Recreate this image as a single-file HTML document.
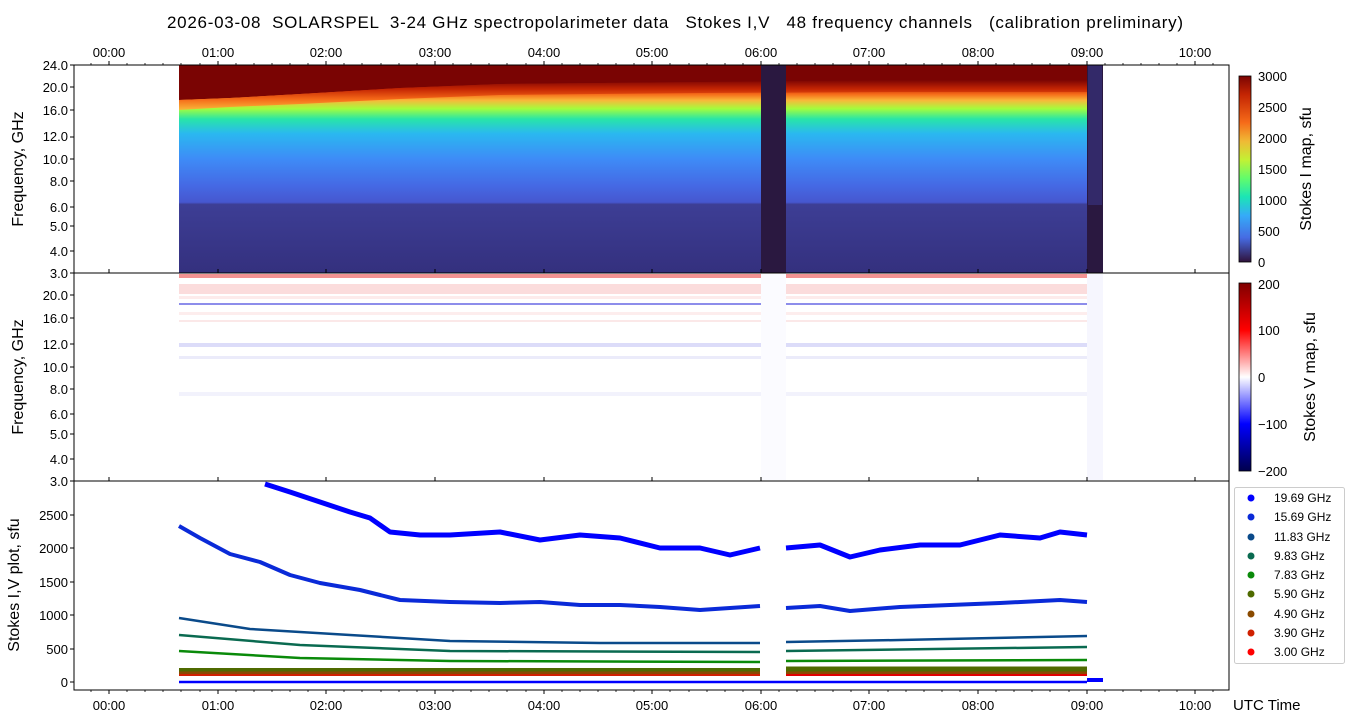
<!DOCTYPE html>
<html><head><meta charset="utf-8"><style>
html,body{margin:0;padding:0;background:#fff}
svg{display:block;font-family:"Liberation Sans","DejaVu Sans",sans-serif}
.pre{white-space:pre}
</style></head><body>
<svg width="1350" height="725" viewBox="0 0 1350 725" xmlns="http://www.w3.org/2000/svg">
<defs>
<linearGradient id="gI" x1="0" y1="65" x2="0" y2="273" gradientUnits="userSpaceOnUse">
<stop offset="0" stop-color="#7a0403"/>
<stop offset="0.08" stop-color="#800505"/>
<stop offset="0.11" stop-color="#c42503"/>
<stop offset="0.14" stop-color="#f66b19"/>
<stop offset="0.17" stop-color="#f8b83a"/>
<stop offset="0.21" stop-color="#a3fd3d"/>
<stop offset="0.26" stop-color="#28e5a8"/>
<stop offset="0.33" stop-color="#2ab8f0"/>
<stop offset="0.45" stop-color="#3e8cf7"/>
<stop offset="0.58" stop-color="#4569e4"/>
<stop offset="0.66" stop-color="#4657cf"/>
<stop offset="0.67" stop-color="#3d3e95"/>
<stop offset="1" stop-color="#34307e"/>
</linearGradient>
<linearGradient id="gS" x1="0" y1="0" x2="0" y2="1">
<stop offset="0" stop-color="#7a0403"/>
<stop offset="0.3" stop-color="#c42503"/>
<stop offset="0.65" stop-color="#f66b19"/>
<stop offset="1" stop-color="#f8b83a"/>
</linearGradient>
<linearGradient id="cb1" x1="0" y1="0" x2="0" y2="1">
<stop offset="0" stop-color="#7a0403"/><stop offset="0.1" stop-color="#c42503"/>
<stop offset="0.25" stop-color="#f66b19"/><stop offset="0.35" stop-color="#f0b935"/>
<stop offset="0.45" stop-color="#c3f134"/><stop offset="0.55" stop-color="#62fc6b"/>
<stop offset="0.65" stop-color="#1be5b5"/><stop offset="0.75" stop-color="#35abf8"/>
<stop offset="0.87" stop-color="#466be3"/><stop offset="1" stop-color="#30123b"/>
</linearGradient>
<linearGradient id="cb2" x1="0" y1="0" x2="0" y2="1">
<stop offset="0" stop-color="#800000"/><stop offset="0.25" stop-color="#ff0000"/>
<stop offset="0.5" stop-color="#ffffff"/><stop offset="0.75" stop-color="#0000ff"/>
<stop offset="1" stop-color="#00004c"/>
</linearGradient>
</defs>

<text class="pre" x="167" y="28" font-size="17" textLength="1016" lengthAdjust="spacing" fill="#000">2026-03-08  SOLARSPEL  3-24 GHz spectropolarimeter data   Stokes I,V   48 frequency channels   (calibration preliminary)</text>

<!-- Top panel -->
<rect x="179" y="65" width="908" height="208" fill="url(#gI)"/>
<polygon points="179,65 1087,65 1087,80 900,80 700,82 500,84 400,88 300,94 230,98 179,100" fill="#7a0403"/>
<polygon points="179,100 230,98 300,94 400,88 500,84 700,82 900,80 1087,80 1087,92 900,92 700,93 500,95 400,99 300,104 230,107 179,110" fill="url(#gS)"/>
<rect x="761" y="65" width="25" height="208" fill="#2a1840"/>
<rect x="1087" y="65" width="16" height="208" fill="#2a1840"/>
<rect x="1088" y="65" width="14" height="140" fill="#3a3585" opacity="0.6"/>
<rect x="74" y="65" width="1155" height="208" fill="none" stroke="#000" stroke-width="1"/>

<!-- Middle panel -->
<g opacity="0.85">
<rect x="179" y="274" width="908" height="4" fill="#f08080"/>
<rect x="179" y="284" width="908" height="10" fill="#fbd6d6"/>
<rect x="179" y="296" width="908" height="3" fill="#fde8e8"/>
<rect x="179" y="303" width="908" height="2" fill="#7a7ae8"/>
<rect x="179" y="312" width="908" height="3" fill="#fdeaea"/>
<rect x="179" y="320" width="908" height="2" fill="#fbe4e4"/>
<rect x="179" y="343" width="908" height="4" fill="#d6d6f8"/>
<rect x="179" y="356" width="908" height="3" fill="#e8e8fa"/>
<rect x="179" y="392" width="908" height="4" fill="#f0f0fc"/>
</g>
<rect x="761" y="274" width="25" height="206" fill="#fbfbff"/>
<rect x="1087" y="274" width="16" height="206" fill="#f6f6fe"/>
<rect x="74" y="273" width="1155" height="208" fill="none" stroke="#000" stroke-width="1"/>

<!-- Bottom panel -->
<g fill="none" stroke-linejoin="round">
<polyline stroke="#0000ff" stroke-width="5" points="265,484 290,492 320,502 350,512 370,518 390,532 420,535 450,535 500,532 540,540 580,535 620,538 660,548 700,548 730,555 760,548"/>
<polyline stroke="#0000ff" stroke-width="5" points="786,548 820,545 850,557 880,550 920,545 960,545 1000,535 1040,538 1060,532 1087,535"/>
<polyline stroke="#0a2ad8" stroke-width="4" points="179,526 200,538 230,554 260,562 290,575 320,583 360,590 380,595 400,600 450,602 500,603 540,602 580,605 620,605 660,607 700,610 760,606"/>
<polyline stroke="#0a2ad8" stroke-width="4" points="786,608 820,606 850,611 900,607 950,605 1000,603 1060,600 1087,602"/>
<polyline stroke="#0a4a8a" stroke-width="2.5" points="179,618 250,629 350,635 450,641 600,643 760,643"/>
<polyline stroke="#0a4a8a" stroke-width="2.5" points="786,642 900,640 1087,636"/>
<polyline stroke="#0a6a50" stroke-width="2.5" points="179,635 300,645 450,651 760,652"/>
<polyline stroke="#0a6a50" stroke-width="2.5" points="786,651 1087,647"/>
<polyline stroke="#0a8a0a" stroke-width="2.5" points="179,651 300,658 450,661 760,662"/>
<polyline stroke="#0a8a0a" stroke-width="2.5" points="786,661 1087,660"/>
<line x1="179" y1="670" x2="760" y2="670" stroke="#4f6a00" stroke-width="4"/>
<line x1="786" y1="669" x2="1087" y2="669" stroke="#4f6a00" stroke-width="5"/>
<line x1="179" y1="673" x2="760" y2="673" stroke="#8a4a00" stroke-width="3"/>
<line x1="786" y1="673" x2="1087" y2="673" stroke="#8a4a00" stroke-width="3"/>
<line x1="179" y1="675" x2="760" y2="675" stroke="#d02000" stroke-width="2"/>
<line x1="786" y1="675" x2="1087" y2="675" stroke="#e00000" stroke-width="2"/>
<line x1="179" y1="682" x2="1087" y2="682" stroke="#0000ff" stroke-width="2.5"/>
<line x1="1087" y1="680" x2="1103" y2="680" stroke="#0000ff" stroke-width="4"/>
</g>
<rect x="74" y="481" width="1155" height="209" fill="none" stroke="#000" stroke-width="1"/>

<!-- x ticks -->
<g stroke="#000" stroke-width="1">
<path d="M109,65v-4M218,65v-4M326,65v-4M435,65v-4M544,65v-4M652,65v-4M761,65v-4M869,65v-4M978,65v-4M1087,65v-4M1195,65v-4"/>
<path d="M109,690v4M218,690v4M326,690v4M435,690v4M544,690v4M652,690v4M761,690v4M869,690v4M978,690v4M1087,690v4M1195,690v4"/>
<path d="M109,273v-4M218,273v-4M326,273v-4M435,273v-4M544,273v-4M652,273v-4M761,273v-4M869,273v-4M978,273v-4M1087,273v-4M1195,273v-4"/>
<path d="M109,481v-4M218,481v-4M326,481v-4M435,481v-4M544,481v-4M652,481v-4M761,481v-4M869,481v-4M978,481v-4M1087,481v-4M1195,481v-4"/>
</g>
<g stroke="#000" stroke-width="0.8">
<path d="M91,65v-2M127,65v-2M145,65v-2M163,65v-2M181,65v-2M200,65v-2M236,65v-2M254,65v-2M272,65v-2M290,65v-2M308,65v-2M344,65v-2M362,65v-2M381,65v-2M399,65v-2M417,65v-2M453,65v-2M471,65v-2M489,65v-2M507,65v-2M526,65v-2M562,65v-2M580,65v-2M598,65v-2M616,65v-2M634,65v-2M670,65v-2M689,65v-2M707,65v-2M725,65v-2M743,65v-2M779,65v-2M797,65v-2M815,65v-2M833,65v-2M851,65v-2M888,65v-2M906,65v-2M924,65v-2M942,65v-2M960,65v-2M996,65v-2M1014,65v-2M1032,65v-2M1050,65v-2M1069,65v-2M1105,65v-2M1123,65v-2M1141,65v-2M1159,65v-2M1177,65v-2M1213,65v-2"/>
<path d="M91,690v2M127,690v2M145,690v2M163,690v2M181,690v2M200,690v2M236,690v2M254,690v2M272,690v2M290,690v2M308,690v2M344,690v2M362,690v2M381,690v2M399,690v2M417,690v2M453,690v2M471,690v2M489,690v2M507,690v2M526,690v2M562,690v2M580,690v2M598,690v2M616,690v2M634,690v2M670,690v2M689,690v2M707,690v2M725,690v2M743,690v2M779,690v2M797,690v2M815,690v2M833,690v2M851,690v2M888,690v2M906,690v2M924,690v2M942,690v2M960,690v2M996,690v2M1014,690v2M1032,690v2M1050,690v2M1069,690v2M1105,690v2M1123,690v2M1141,690v2M1159,690v2M1177,690v2M1213,690v2"/>
</g>
<g font-size="13" text-anchor="middle" fill="#000">
<text x="109" y="57">00:00</text><text x="218" y="57">01:00</text><text x="326" y="57">02:00</text><text x="435" y="57">03:00</text><text x="544" y="57">04:00</text><text x="652" y="57">05:00</text><text x="761" y="57">06:00</text><text x="869" y="57">07:00</text><text x="978" y="57">08:00</text><text x="1087" y="57">09:00</text><text x="1195" y="57">10:00</text>
<text x="109" y="710">00:00</text><text x="218" y="710">01:00</text><text x="326" y="710">02:00</text><text x="435" y="710">03:00</text><text x="544" y="710">04:00</text><text x="652" y="710">05:00</text><text x="761" y="710">06:00</text><text x="869" y="710">07:00</text><text x="978" y="710">08:00</text><text x="1087" y="710">09:00</text><text x="1195" y="710">10:00</text>
</g>
<text x="1233" y="710" font-size="15" fill="#000">UTC Time</text>

<!-- y labels -->
<g font-size="13" text-anchor="end" fill="#000">
<text x="68" y="70">24.0</text><text x="68" y="92">20.0</text><text x="68" y="115">16.0</text><text x="68" y="141">12.0</text><text x="68" y="164">10.0</text><text x="68" y="186">8.0</text><text x="68" y="212">6.0</text><text x="68" y="231">5.0</text><text x="68" y="256">4.0</text><text x="68" y="278">3.0</text>
<text x="68" y="300">20.0</text><text x="68" y="323">16.0</text><text x="68" y="349">12.0</text><text x="68" y="372">10.0</text><text x="68" y="394">8.0</text><text x="68" y="419">6.0</text><text x="68" y="439">5.0</text><text x="68" y="464">4.0</text><text x="68" y="486">3.0</text>
<text x="68" y="687">0</text><text x="68" y="654">500</text><text x="68" y="620">1000</text><text x="68" y="587">1500</text><text x="68" y="553">2000</text><text x="68" y="520">2500</text>
</g>
<g stroke="#000"><path d="M74,65h-4M74,87h-4M74,110h-4M74,137h-4M74,159h-4M74,181h-4M74,207h-4M74,226h-4M74,251h-4M74,273h-4M74,295h-4M74,318h-4M74,344h-4M74,367h-4M74,389h-4M74,414h-4M74,434h-4M74,459h-4M74,481h-4M74,682h-4M74,649h-4M74,615h-4M74,582h-4M74,548h-4M74,515h-4"/></g>
<g font-size="16" fill="#000" text-anchor="middle">
<text transform="translate(23,169) rotate(-90)">Frequency, GHz</text>
<text transform="translate(23,377) rotate(-90)">Frequency, GHz</text>
<text transform="translate(19,585) rotate(-90)">Stokes I,V plot, sfu</text>
<text transform="translate(1311,169) rotate(-90)">Stokes I map, sfu</text>
<text transform="translate(1315,377) rotate(-90)">Stokes V map, sfu</text>
</g>

<!-- colorbars -->
<rect x="1239" y="76" width="12" height="186" fill="url(#cb1)" stroke="#000" stroke-width="0.8"/>
<g font-size="13" fill="#000"><text x="1258" y="81">3000</text><text x="1258" y="112">2500</text><text x="1258" y="143">2000</text><text x="1258" y="174">1500</text><text x="1258" y="205">1000</text><text x="1258" y="236">500</text><text x="1258" y="267">0</text></g>
<rect x="1239" y="283" width="12" height="188" fill="url(#cb2)" stroke="#000" stroke-width="0.8"/>
<g font-size="13" fill="#000"><text x="1258" y="289">200</text><text x="1258" y="335">100</text><text x="1258" y="382">0</text><text x="1258" y="429">−100</text><text x="1258" y="476">−200</text></g>

<!-- legend -->
<rect x="1234.5" y="487.5" width="110" height="176" rx="2" fill="#fff" stroke="#ccc"/>
<g font-size="12" fill="#000">
<circle cx="1251" cy="498" r="3.5" fill="#0000ff"/><text x="1274" y="502">19.69 GHz</text>
<circle cx="1251" cy="517" r="3.5" fill="#0a2ad8"/><text x="1274" y="521">15.69 GHz</text>
<circle cx="1251" cy="537" r="3.5" fill="#0a4a8a"/><text x="1274" y="541">11.83 GHz</text>
<circle cx="1251" cy="556" r="3.5" fill="#0a6a50"/><text x="1274" y="560">9.83 GHz</text>
<circle cx="1251" cy="575" r="3.5" fill="#0a8a0a"/><text x="1274" y="579">7.83 GHz</text>
<circle cx="1251" cy="594" r="3.5" fill="#4f6a00"/><text x="1274" y="598">5.90 GHz</text>
<circle cx="1251" cy="614" r="3.5" fill="#8a4a00"/><text x="1274" y="618">4.90 GHz</text>
<circle cx="1251" cy="633" r="3.5" fill="#d02000"/><text x="1274" y="637">3.90 GHz</text>
<circle cx="1251" cy="652" r="3.5" fill="#ff0000"/><text x="1274" y="656">3.00 GHz</text>
</g>
</svg>
</body></html>
